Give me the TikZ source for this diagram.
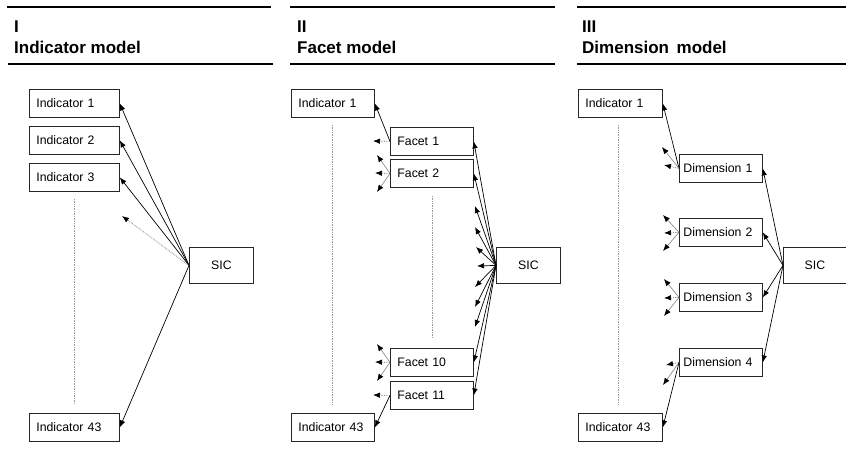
\documentclass[tikz,border=0pt]{standalone}
\usepackage{fontspec}
\setmainfont{Liberation Sans}
\usetikzlibrary{arrows.meta}
\begin{document}
\begin{tikzpicture}[x=1pt,y=-1pt,
  box/.style={draw=black!85, line width=0.8pt, anchor=north west,
    minimum height=28pt, inner ysep=0pt, align=left,
    font=\fontsize{12.3}{14}\selectfont},
  boxI/.style={box, inner xsep=7pt, text width=76pt},
  boxF/.style={box, inner xsep=7pt, text width=69pt},
  boxD/.style={box, inner xsep=4pt, text width=75pt},
  boxR/.style={box, inner xsep=7pt, text width=70pt},
  sic/.style={draw=black!85, line width=0.8pt, anchor=north west,
    minimum width=64pt, minimum height=36pt, inner sep=0pt,
    font=\fontsize{12.3}{14}\selectfont},
  head/.style={anchor=base west, inner sep=0pt,
    font=\fontsize{17}{20}\selectfont\bfseries},
  rule/.style={line width=1.8pt},
  tip/.style={-{Latex[length=7pt,width=5.5pt,color=black]}},
  arr/.style={tip, line width=0.7pt, draw=black},
  garr/.style={tip, line width=0.6pt, draw=gray},
  darr/.style={tip, line width=0.7pt, draw=gray!80!black, densely dotted},
  vdots/.style={draw=gray!80, line width=0.7pt, densely dotted}]

\useasboundingbox (0,0) rectangle (846,456);

% ---------- I: indicator model ----------
\draw[rule] (7,7) -- (271,7);
\node[head] (hI) at (14,32) {I};
\node[head] (tI) at (14,53) {Indicator model};
\draw[rule] (8,64) -- (273,64);

\node[boxI] (a1) at (29,89) {Indicator 1};
\node[boxI] (a2) at (29,126) {Indicator 2};
\node[boxI] (a3) at (29,163) {Indicator 3};
\node[boxI] (a43) at (29,413) {Indicator 43};
\node[sic] (sA) at (189,247) {SIC};
\coordinate (aF) at (122,216);
\draw[vdots] (74,199) -- (74,404);

\draw[arr] (sA.west) -- (a1.east);
\draw[arr] (sA.west) -- (a2.east);
\draw[arr] (sA.west) -- (a3.east);
\draw[arr] (sA.west) -- (a43.east);
\draw[darr] (sA.west) -- (aF);

% ---------- II: facet model ----------
\draw[rule] (290,7) -- (555,7);
\node[head] (hII) at (297,32) {II};
\node[head] (tII) at (297,53) {Facet model};
\draw[rule] (290,64) -- (555,64);

\node[boxF] (b1) at (291,89) {Indicator 1};
\node[boxF] (b43) at (291,413) {Indicator 43};
\node[boxF] (f1) at (390,127) {Facet 1};
\node[boxF] (f2) at (390,159) {Facet 2};
\node[boxF] (f10) at (390,348) {Facet 10};
\node[boxF] (f11) at (390,381) {Facet 11};
\node[sic] (sB) at (496,247) {SIC};
\draw[vdots] (332,125) -- (332,404);
\draw[vdots] (432,196) -- (432,338);

% facets without a box
\coordinate (g3) at (475,206);
\coordinate (g4) at (475,227);
\coordinate (g5) at (476,247);
\coordinate (g6) at (477,266);
\coordinate (g7) at (475,287);
\coordinate (g8) at (475,307);
\coordinate (g9) at (475,327);

\foreach \t in {f1,f2,g3,g4,g5,g6,g7,g8,g9,f10,f11}
  \draw[arr] (sB.west) -- (\t.east);

% indicators under each facet
\coordinate (f1l) at (373,141);
\coordinate (f2a) at (377,155);
\coordinate (f2b) at (375,173);
\coordinate (f2c) at (377,192);
\coordinate (f10a) at (377,344);
\coordinate (f10b) at (375,362);
\coordinate (f10c) at (377,381);
\coordinate (f11l) at (373,395);

\draw[arr] (f1.west) -- (b1.east);
\draw[darr] (f1.west) -- (f1l);
\draw[garr] (f2.west) -- (f2a);
\draw[darr] (f2.west) -- (f2b);
\draw[garr] (f2.west) -- (f2c);
\draw[garr] (f10.west) -- (f10a);
\draw[darr] (f10.west) -- (f10b);
\draw[garr] (f10.west) -- (f10c);
\draw[darr] (f11.west) -- (f11l);
\draw[arr] (f11.west) -- (b43.east);

% ---------- III: dimension model ----------
\draw[rule] (577,7) -- (846,7);
\node[head] (hIII) at (582,32) {III};
\node[head] (tIII) at (582,53) {Dimension\, model};
\draw[rule] (577,64) -- (846,64);

\node[boxR] (c1) at (578,89) {Indicator 1};
\node[boxR] (c43) at (578,413) {Indicator 43};
\node[boxD] (d1) at (679,154) {Dimension 1};
\node[boxD] (d2) at (679,218) {Dimension 2};
\node[boxD] (d3) at (679,283) {Dimension 3};
\node[boxD] (d4) at (679,348) {Dimension 4};
\node[sic, minimum width=63pt] (sC) at (783,247) {SIC};
\draw[vdots] (618,125) -- (618,404);

\foreach \t in {d1,d2,d3,d4}
  \draw[arr] (sC.west) -- (\t.east);

\coordinate (d1a) at (662,147);
\coordinate (d1b) at (664,165);
\coordinate (d2a) at (663,215);
\coordinate (d2b) at (664,233);
\coordinate (d2c) at (663,251);
\coordinate (d3a) at (664,279);
\coordinate (d3b) at (664,298);
\coordinate (d3c) at (664,316);
\coordinate (d4a) at (666,365);
\coordinate (d4b) at (663,385);

\draw[arr] (d1.west) -- (c1.east);
\draw[garr] (d1.west) -- (d1a);
\draw[darr] (d1.west) -- (d1b);
\draw[garr] (d2.west) -- (d2a);
\draw[darr] (d2.west) -- (d2b);
\draw[garr] (d2.west) -- (d2c);
\draw[garr] (d3.west) -- (d3a);
\draw[darr] (d3.west) -- (d3b);
\draw[garr] (d3.west) -- (d3c);
\draw[darr] (d4.west) -- (d4a);
\draw[garr] (d4.west) -- (d4b);
\draw[arr] (d4.west) -- (c43.east);

\end{tikzpicture}
\end{document}
